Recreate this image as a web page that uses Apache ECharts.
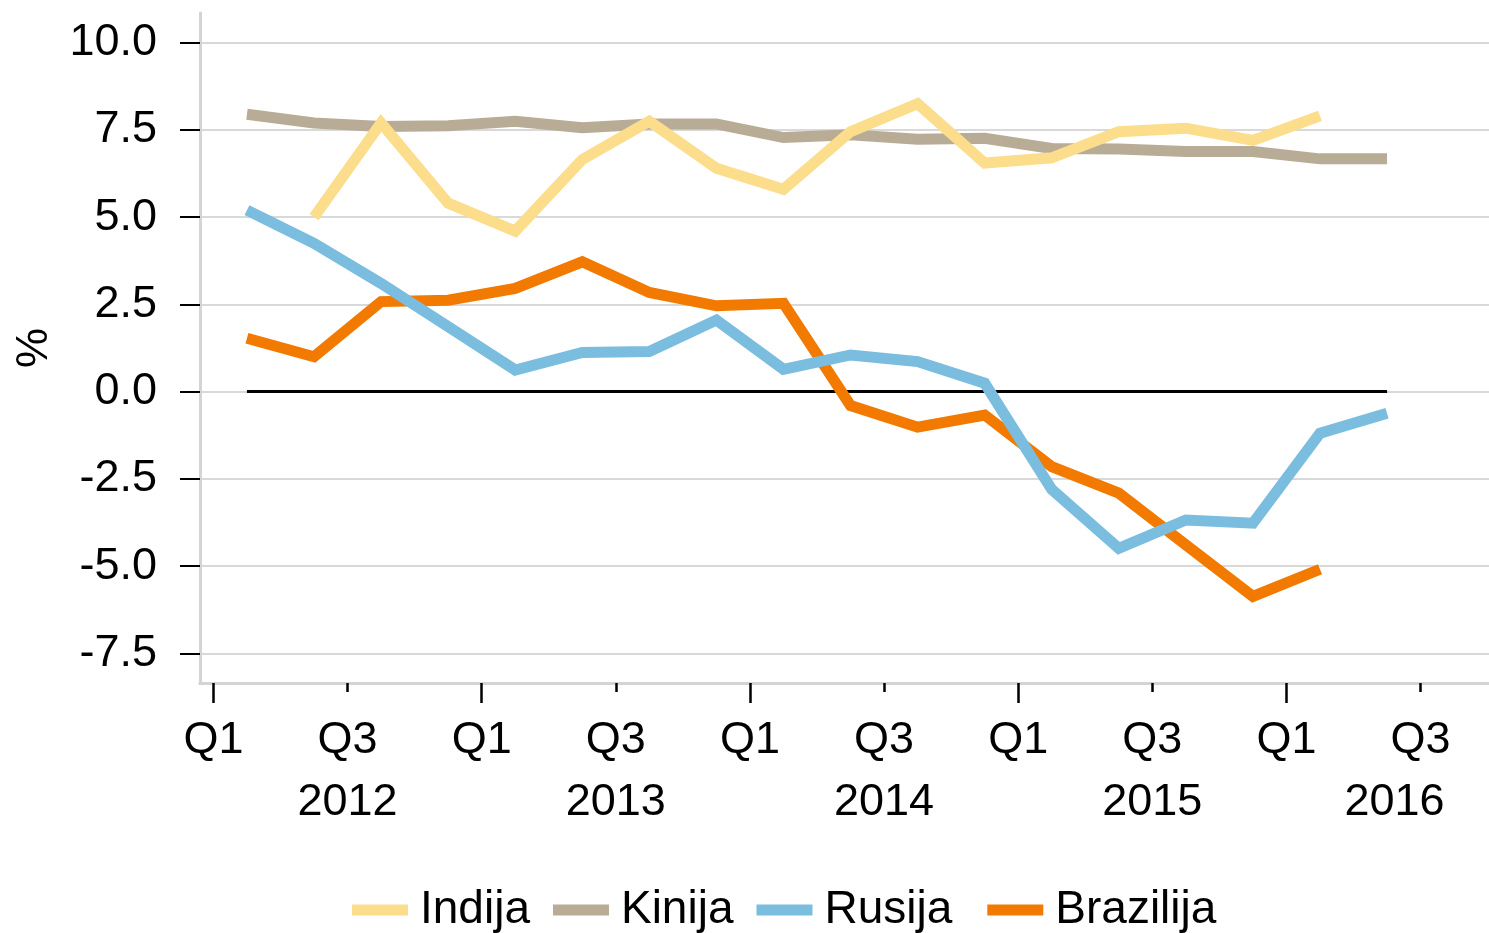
<!DOCTYPE html>
<html>
<head>
<meta charset="utf-8">
<script src="https://cdn.jsdelivr.net/npm/echarts@6/dist/echarts.min.js"></script>
<style>
  html, body { margin: 0; padding: 0; background: #fff; overflow: hidden; }
  #main { width: 1489px; height: 933px; }
</style>
</head>
<body>
<div id="main"></div>
<script>
// quarters 2012 Q1 .. 2016 Q2, values in % (y/y)
var quarters = ['2012Q1', '2012Q2', '2012Q3', '2012Q4', '2013Q1', '2013Q2', '2013Q3', '2013Q4',
    '2014Q1', '2014Q2', '2014Q3', '2014Q4', '2015Q1', '2015Q2', '2015Q3', '2015Q4', '2016Q1', '2016Q2'];
var indija = [null, 5.0, 7.7, 5.4, 4.6, 6.65, 7.75, 6.4, 5.8, 7.45, 8.25, 6.55, 6.7, 7.45, 7.55, 7.2, 7.9, null];
var kinija = [7.95, 7.7, 7.6, 7.62, 7.75, 7.56, 7.67, 7.67, 7.28, 7.36, 7.23, 7.26, 6.97, 6.95, 6.88, 6.88, 6.67, 6.67];
var rusija = [5.2, 4.25, 3.1, 1.86, 0.62, 1.12, 1.15, 2.05, 0.64, 1.05, 0.86, 0.24, -2.8, -4.49, -3.68, -3.77, -1.19, -0.62];
var brazilija = [1.53, 1.0, 2.58, 2.62, 2.96, 3.72, 2.84, 2.46, 2.53, -0.4, -1.02, -0.67, -2.15, -2.91, -4.39, -5.87, -5.09, null];

// tick labels
var q1Ticks = [0, 4, 8, 12, 16];
var q3Ticks = [2, 6, 10, 14, 18];
var years = ['2012', '2013', '2014', '2015', '2016'];
var yTicks = [-7.5, -5, -2.5, 0, 2.5, 5, 7.5, 10];

var FONT = 'Liberation Sans, Arial, sans-serif';
var FS = 45;
var grayAxis = '#d5d4d2';

// points sit in the middle of each quarter
function pts(arr) {
    return arr.map(function (v, i) { return [i + 0.5, v]; });
}
var zeroLine = [[0.5, 0], [quarters.length - 0.5, 0]];

var chart = echarts.init(document.getElementById('main'));

function xAxisBase() {
    return {
        type: 'value',
        position: 'bottom',
        min: -0.2,
        max: 19.02,
        splitLine: { show: false },
        axisLine: { show: true, onZero: false, lineStyle: { color: grayAxis, width: 3 } }
    };
}

var xQ1 = xAxisBase();
xQ1.axisTick = { show: true, length: 20, customValues: q1Ticks, lineStyle: { color: '#000', width: 2.5 } };
xQ1.axisLabel = {
    customValues: q1Ticks, margin: 27, color: '#000', fontFamily: FONT, fontSize: FS, lineHeight: 62,
    formatter: function () { return 'Q1'; }
};

var xQ3 = xAxisBase();
xQ3.axisTick = { show: true, length: 9, customValues: q3Ticks, lineStyle: { color: '#000', width: 2.5 } };
xQ3.axisLabel = {
    customValues: q3Ticks, margin: 27, color: '#000', fontFamily: FONT, fontSize: FS, lineHeight: 62,
    formatter: function (v) {
        var y = years[q3Ticks.indexOf(v)];
        if (v === q3Ticks[q3Ticks.length - 1]) return 'Q3\n{last|' + y + '}';
        return 'Q3\n' + y;
    },
    rich: {
        last: { fontFamily: FONT, fontSize: FS, lineHeight: 62, color: '#000', padding: [0, 52, 0, 0] }
    }
};

var option = {
    backgroundColor: '#fff',
    animation: false,
    grid: { left: 200, right: 0, top: 13, bottom: 250, outerBoundsMode: 'none' },
    legend: {
        left: 352,
        top: 885,
        padding: 0,
        itemWidth: 56,
        itemHeight: 11,
        itemGap: 23,
        icon: 'rect',
        textStyle: {
            color: '#000', fontFamily: FONT, fontSize: 46, lineHeight: 50, padding: [0, 0, 0, 7],
            rich: { wide: { fontFamily: FONT, fontSize: 46, lineHeight: 50, color: '#000', padding: [0, 12, 0, 0] } }
        },
        formatter: function (name) {
            return name === 'Rusija' ? '{wide|' + name + '}' : name;
        },
        data: ['Indija', 'Kinija', 'Rusija', 'Brazilija']
    },
    xAxis: [xQ1, xQ3],
    yAxis: {
        type: 'value',
        min: -8.35,
        max: 10.85,
        name: '%',
        nameLocation: 'middle',
        nameRotate: 90,
        nameGap: 143,
        nameTextStyle: { color: '#000', fontFamily: FONT, fontSize: FS },
        axisLine: { show: true, onZero: false, lineStyle: { color: grayAxis, width: 3 } },
        axisTick: { show: true, length: 20, customValues: yTicks, lineStyle: { color: '#000', width: 2 } },
        axisLabel: {
            customValues: yTicks, margin: 43, color: '#000', fontFamily: FONT, fontSize: FS,
            formatter: function (v) { return v.toFixed(1); }
        },
        splitLine: { show: true, lineStyle: { color: '#d9d9d9', width: 2 } }
    },
    series: [
        {
            name: 'zero', type: 'line', data: zeroLine, showSymbol: false, silent: true,
            lineStyle: { color: '#000', width: 3 }
        },
        {
            name: 'Brazilija', type: 'line', data: pts(brazilija), showSymbol: false,
            color: '#f27a00', lineStyle: { width: 11, join: 'miter' }
        },
        {
            name: 'Rusija', type: 'line', data: pts(rusija), showSymbol: false,
            color: '#7bbdde', lineStyle: { width: 11, join: 'miter' }
        },
        {
            name: 'Kinija', type: 'line', data: pts(kinija), showSymbol: false,
            color: '#b9ac96', lineStyle: { width: 11, join: 'miter' }
        },
        {
            name: 'Indija', type: 'line', data: pts(indija), showSymbol: false,
            color: '#fbdd8c', lineStyle: { width: 11, join: 'miter' }
        }
    ]
};
chart.setOption(option);
</script>
</body>
</html>
